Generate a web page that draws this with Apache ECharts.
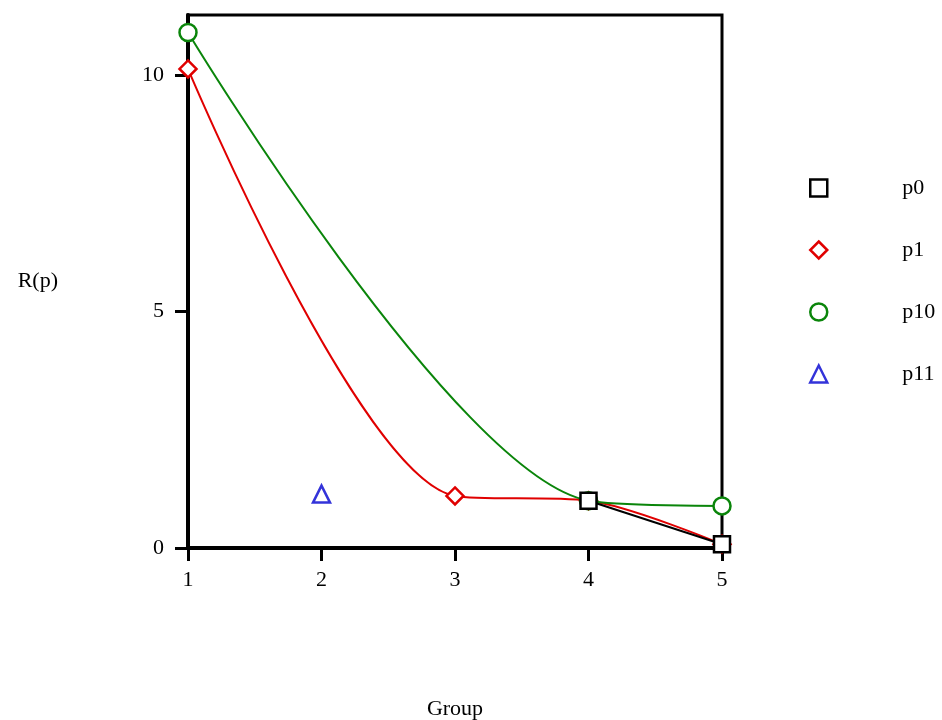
<!DOCTYPE html>
<html>
<head>
<meta charset="utf-8">
<script src="https://cdn.jsdelivr.net/npm/echarts@6/dist/echarts.min.js"></script>
<style>
  html, body { margin: 0; padding: 0; background: #fff; }
  #main { width: 942px; height: 720px; }
</style>
</head>
<body>
<div id="main"></div>
<script>
// 数据
var seriesNames = ['p0', 'p1', 'p10', 'p11'];
var p0Data = [[4, 1.0], [5, 0.08]];
var p1Data = [[1, 10.13], [3, 1.1], [4, 1.0], [5, 0.08]];
var p10Data = [[1, 10.9], [4, 1.0], [5, 0.89]];
var p11Data = [[2, 1.14]];
var yTicks = [0, 5, 10];

var colors = ['#000000', '#e00000', '#0a850a', '#0000d0'];
var symbols = ['rect', 'diamond', 'circle', 'triangle'];
var zs = [9, 4, 5, 6];
var font = 'Liberation Serif';

var myChart = echarts.init(document.getElementById('main'));

function mkSeries(i, data, line) {
    return {
        name: seriesNames[i],
        type: line ? 'line' : 'scatter',
        data: data,
        smooth: 0.3,
        symbol: symbols[i],
        symbolSize: i === 0 ? 16 : 17,
        showAllSymbol: true,
        lineStyle: { color: colors[i], width: 2 },
        itemStyle: { color: '#fff', borderColor: colors[i], borderWidth: 2.5 },
        z: zs[i]
    };
}

var option = {
    backgroundColor: '#fff',
    animation: false,
    grid: {
        left: 188, right: 220, top: 15, bottom: 172,
        outerBoundsMode: 'none',
        containLabel: false,
        show: true,
        borderColor: '#000',
        borderWidth: 3
    },
    legend: {
        orient: 'vertical',
        left: 804,
        top: 172,
        itemWidth: 17,
        itemHeight: 17,
        itemGap: 40,
        textStyle: {
            fontFamily: font,
            fontSize: 22,
            color: '#000',
            lineHeight: 22,
            padding: [0, 0, 0, 70]
        },
        data: seriesNames.map(function (n, i) {
            return {
                name: n,
                icon: symbols[i],
                itemStyle: { color: '#fff', borderColor: colors[i], borderWidth: 2.5 }
            };
        })
    },
    xAxis: {
        type: 'value',
        min: 1,
        max: 5,
        interval: 1,
        name: 'Group',
        nameLocation: 'middle',
        nameGap: 150,
        nameTextStyle: { fontFamily: font, fontSize: 22, color: '#000' },
        axisLine: { lineStyle: { color: '#000', width: 4 } },
        axisTick: { length: 13, lineStyle: { color: '#000', width: 3 } },
        axisLabel: { fontFamily: font, fontSize: 22, color: '#000', margin: 21 },
        splitLine: { show: false }
    },
    yAxis: {
        type: 'value',
        min: 0,
        max: 11.27,
        name: 'R(p)',
        nameLocation: 'middle',
        nameRotate: 0,
        nameGap: 130,
        nameTextStyle: { fontFamily: font, fontSize: 22, color: '#000', padding: [14, 0, 0, 0] },
        axisLine: { lineStyle: { color: '#000', width: 4 } },
        axisTick: { length: 13, customValues: yTicks, lineStyle: { color: '#000', width: 3 } },
        axisLabel: { fontFamily: font, fontSize: 22, color: '#000', margin: 24, customValues: yTicks },
        splitLine: { show: false }
    },
    series: [
        mkSeries(0, p0Data, true),
        mkSeries(1, p1Data, true),
        mkSeries(2, p10Data, true),
        mkSeries(3, p11Data, false)
    ]
};

myChart.setOption(option);
</script>
</body>
</html>
